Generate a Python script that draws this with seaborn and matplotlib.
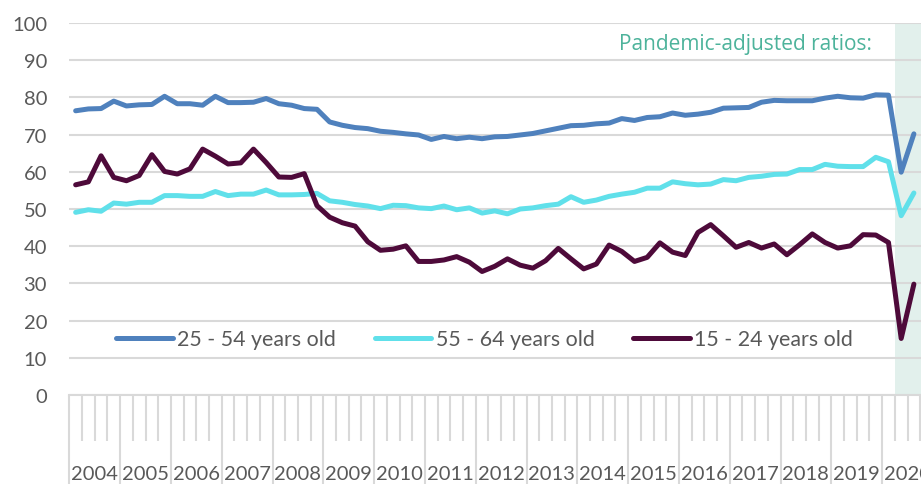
import numpy as np
import pandas as pd
import matplotlib
matplotlib.use("Agg")
import matplotlib.pyplot as plt
import seaborn as sns

# quarterly employment ratios, 2004 Q1 - 2020 Q3
years = [str(y) for y in range(2004, 2021)]
quarters = [f"{y} Q{q}" for y in range(2004, 2021) for q in range(1, 5)][:67]

prime_age = [76.4, 76.9, 77.0, 79.0, 77.7, 78.0, 78.1, 80.3, 78.3, 78.3, 77.9, 80.3,
             78.6, 78.6, 78.7, 79.7, 78.3, 77.9, 77.0, 76.8, 73.4, 72.5, 71.9, 71.6,
             70.9, 70.6, 70.2, 69.9, 68.7, 69.5, 68.9, 69.3, 68.9, 69.4, 69.5, 69.9,
             70.3, 71.0, 71.7, 72.4, 72.5, 72.9, 73.1, 74.3, 73.8, 74.6, 74.8, 75.8,
             75.2, 75.5, 76.0, 77.1, 77.2, 77.3, 78.7, 79.2, 79.1, 79.1, 79.1, 79.8,
             80.3, 79.9, 79.8, 80.7, 80.6, 59.9, 70.2]
older = [49.1, 49.8, 49.4, 51.6, 51.3, 51.8, 51.8, 53.6, 53.6, 53.4, 53.4, 54.7,
         53.6, 54.0, 54.0, 55.1, 53.8, 53.8, 53.9, 54.2, 52.2, 51.8, 51.2, 50.8,
         50.1, 51.0, 50.9, 50.3, 50.1, 50.8, 49.8, 50.3, 48.9, 49.5, 48.7, 50.0,
         50.3, 50.9, 51.3, 53.3, 51.8, 52.4, 53.4, 54.0, 54.5, 55.6, 55.6, 57.3,
         56.8, 56.5, 56.7, 57.9, 57.6, 58.5, 58.8, 59.3, 59.4, 60.6, 60.6, 62.0,
         61.5, 61.4, 61.4, 63.9, 62.7, 48.2, 54.3]
youth = [56.5, 57.3, 64.3, 58.5, 57.6, 59.0, 64.6, 60.1, 59.4, 60.8, 66.1, 64.2,
         62.1, 62.4, 66.1, 62.5, 58.6, 58.5, 59.5, 50.9, 47.8, 46.3, 45.4, 41.2,
         38.9, 39.2, 40.1, 35.9, 35.9, 36.3, 37.2, 35.7, 33.2, 34.6, 36.6, 34.9,
         34.1, 36.1, 39.4, 36.6, 33.9, 35.2, 40.3, 38.6, 35.9, 37.0, 40.9, 38.4,
         37.5, 43.7, 45.8, 42.8, 39.7, 41.0, 39.5, 40.6, 37.7, 40.4, 43.3, 41.0,
         39.5, 40.1, 43.1, 43.0, 41.0, 15.2, 29.8]

series_names = ["25 - 54 years old", "55 - 64 years old", "15 - 24 years old"]
colors = ["#4f81bd", "#60e0ea", "#4e0a3a"]

df = pd.DataFrame({
    "idx": list(range(len(quarters))) * 3,
    "value": prime_age + older + youth,
    "group": [n for n in series_names for _ in quarters],
})

sns.set_style("white")
plt.rcParams["font.family"] = ["Lato", "DejaVu Sans"]

grey = "#d9d9d9"
txt = "#595959"

fig = plt.figure(figsize=(9.21, 4.85), dpi=100)
ax = fig.add_axes([69.3 / 921, 89 / 485, (921 - 69.3) / 921, 372 / 485])

# shaded pandemic period (from 2020 Q2 on)
ax.axvspan(64.5, 70, color="#e2f0ec", lw=0, zorder=0)

sns.lineplot(data=df, x="idx", y="value", hue="group", palette=colors,
             linewidth=3.6, ax=ax, legend=True, zorder=3)
for ln in ax.get_lines():
    ln.set_solid_capstyle("round")
    ln.set_solid_joinstyle("round")

ax.set_xlim(-0.5, 66.56)
ax.set_ylim(0, 100)
ax.set_yticks(range(0, 101, 10))
ax.yaxis.grid(True, color=grey, lw=1.5, zorder=1)
ax.set_axisbelow(True)
for s in ["top", "right", "left"]:
    ax.spines[s].set_visible(False)
ax.spines["bottom"].set_color(grey)
ax.spines["bottom"].set_linewidth(1.5)
ax.tick_params(axis="y", length=0, pad=16, labelsize=14.5, labelcolor=txt)

# category axis: long ticks between years, short ones between quarters
year_edges = [i * 4 - 0.5 for i in range(len(years))]
quarter_edges = [i - 0.5 for i in range(len(quarters) + 1) if i % 4 != 0]
ax.set_xticks(year_edges)
ax.set_xticklabels([])
ax.set_xticks(quarter_edges, minor=True)
ax.tick_params(axis="x", which="both", bottom=True, direction="out")
ax.tick_params(axis="x", which="major", length=66, width=1.5, color=grey)
ax.tick_params(axis="x", which="minor", length=33, width=1.5, color=grey)
for i, y in enumerate(years):
    ax.text(i * 4 + 1.5, -79 / 3.72, y, ha="center", va="center",
            fontsize=14.5, color=txt, clip_on=False)

ax.text(62.7, 94.4, "Pandemic-adjusted ratios:", ha="right", va="center",
        fontsize=15, color="#4db39b", family=["Open Sans", "DejaVu Sans"])

ax.set_xlabel("")
ax.set_ylabel("")
leg = ax.legend(loc="center", bbox_to_anchor=(0.4875, 0.15), ncol=3,
                frameon=True, facecolor="white", edgecolor="none", framealpha=1,
                fontsize=15.4, handlelength=2.66, handletextpad=0.19,
                columnspacing=1.8, borderpad=0.3)
for t in leg.get_texts():
    t.set_color(txt)
for h in leg.get_lines():
    h.set_linewidth(3.6)
    h.set_solid_capstyle("round")

fig.savefig("out.png", dpi=100)
